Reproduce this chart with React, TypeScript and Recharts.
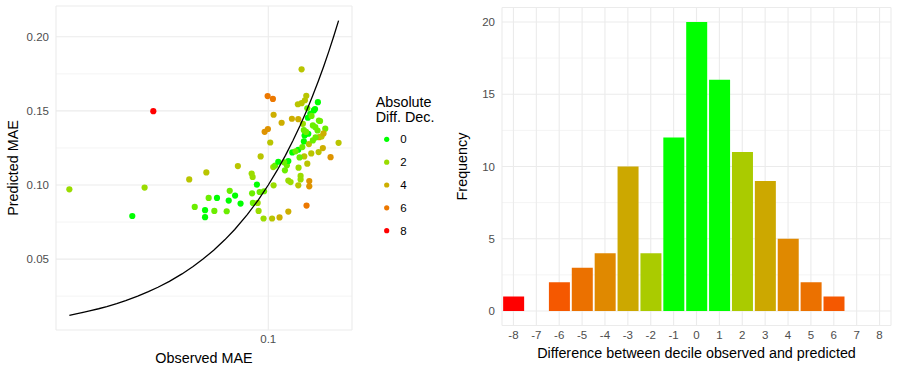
import { ScatterChart, Scatter, BarChart, Bar, XAxis, YAxis, CartesianGrid, Cell } from "recharts";

// scatter: observed vs predicted MAE, coloured by absolute decile difference
const observedMae = [
    0.0121, 0.0236, 0.0269, 0.0295, 0.0432, 0.0458, 0.0511, 0.0511, 0.0518, 0.0531,
    0.0564, 0.0580, 0.0643, 0.0657, 0.0664, 0.0703, 0.0724, 0.0745, 0.0838, 0.0847,
    0.0842, 0.0849, 0.0886, 0.0893, 0.0902, 0.0912, 0.0922, 0.0951, 0.0962, 0.0993,
    0.0996, 0.1021, 0.1041, 0.1050, 0.1058, 0.1054, 0.1058, 0.1075, 0.1112, 0.1127,
    0.1152, 0.1193, 0.1218, 0.1237, 0.1237, 0.1237, 0.1267, 0.1285, 0.1290, 0.1369,
    0.1375, 0.1375, 0.1379, 0.1375, 0.1409, 0.1424, 0.1409, 0.1424, 0.1435, 0.1444,
    0.1459, 0.1465, 0.1470, 0.1459, 0.1475, 0.1497, 0.1501, 0.1513, 0.1513, 0.1522,
    0.1529, 0.1539, 0.1545, 0.1545, 0.1562, 0.1578, 0.1605, 0.1605, 0.1622, 0.1647,
    0.1693, 0.1706, 0.1711, 0.1718, 0.1760, 0.1785, 0.1831, 0.1937, 0.2109, 0.1643,
    0.1583, 0.1733, 0.1494, 0.1687, 0.1798, 0.1652, 0.1394, 0.1336, 0.1183, 0.0956
];

const predictedMae = [
    0.0971, 0.0791, 0.0983, 0.1498, 0.1038, 0.0852, 0.0830, 0.0783, 0.1085, 0.0913,
    0.0825, 0.0913, 0.0823, 0.0895, 0.0961, 0.0929, 0.1128, 0.0875, 0.1077, 0.1054,
    0.0944, 0.0879, 0.1003, 0.0879, 0.0825, 0.0953, 0.1193, 0.0774, 0.1359, 0.1600,
    0.1378, 0.1287, 0.0774, 0.1581, 0.1474, 0.1121, 0.0998, 0.1131, 0.1157, 0.0781,
    0.1420, 0.1099, 0.1133, 0.0821, 0.1162, 0.1030, 0.1020, 0.1447, 0.1220, 0.1545,
    0.1444, 0.1238, 0.1117, 0.0998, 0.1061, 0.1781, 0.1038, 0.1552, 0.1256, 0.1413,
    0.1294, 0.1193, 0.1334, 0.1370, 0.1572, 0.1602, 0.0861, 0.1144, 0.1518, 0.1454,
    0.1346, 0.1276, 0.1027, 0.0991, 0.1481, 0.1213, 0.1301, 0.1402, 0.1503, 0.1390,
    0.1559, 0.1222, 0.1435, 0.1323, 0.1328, 0.1249, 0.1380, 0.1188, 0.1285, 0.1513,
    0.1466, 0.1432, 0.1358, 0.1368, 0.1348, 0.1321, 0.1186, 0.1227, 0.1153, 0.0958
];

const absDiffDecile = [
    2, 0, 2, 8, 3, 1, 0, 0, 3, 1,
    1, 0, 1, 0, 1, 0, 3, 0, 2, 2,
    1, 1, 0, 2, 2, 1, 3, 2, 5, 6,
    5, 3, 3, 6, 4, 2, 2, 1, 0, 4,
    4, 1, 1, 4, 0, 2, 2, 4, 0, 3,
    4, 0, 2, 3, 2, 3, 2, 3, 1, 2,
    0, 3, 0, 1, 3, 3, 6, 3, 1, 0,
    0, 3, 5, 5, 0, 3, 1, 1, 0, 1,
    0, 3, 1, 4, 3, 4, 1, 5, 3, 0,
    1, 1, 1, 1, 4, 1, 1, 1, 1, 1
];

// identity reference (predicted = observed), drawn over the observed range
const identityX = [
    0.0121, 0.013, 0.014, 0.015, 0.0165, 0.018, 0.02, 0.022, 0.025, 0.028, 0.031,
    0.035, 0.04, 0.045, 0.05, 0.056, 0.063, 0.07, 0.08, 0.09, 0.1, 0.11, 0.12,
    0.13, 0.14, 0.15, 0.16, 0.17, 0.18, 0.19, 0.2, 0.2109
];

const legendBreaks = [0, 2, 4, 6, 8];

// histogram of decile differences
const diffValues = [-8, -7, -6, -5, -4, -3, -2, -1, 0, 1, 2, 3, 4, 5, 6, 7, 8];
const frequency = [1, 0, 2, 3, 4, 10, 4, 12, 20, 16, 11, 9, 5, 2, 1, 0, 0];

const pointPalette = ['#00FF00', '#6BEE00', '#9ADC00', '#B9C500', '#CDAE00', '#DE9300', '#EC7800', '#F65200', '#FF0000'];
const barPalette = ['#00FF00', '#00FF00', '#AACB00', '#CCA800', '#E08900', '#EB7100', '#F55800', '#FA3C00', '#FF0000'];

const FONT = '"Liberation Sans", Arial, Helvetica, sans-serif';
const tickStyle = { fill: '#4D4D4D', fontSize: 11.5 };

const points = observedMae.map((x, i) => ({ x, y: predictedMae[i], decile: absDiffDecile[i] }));
const identity = identityX.map(x => ({ x, y: x }));
const histData = diffValues.map((d, i) => ({ diff: d, count: frequency[i] }));

const title = (text: string, x: number, y: number, rotate = false) => () => (
    <text
        x={x}
        y={y}
        textAnchor="middle"
        transform={rotate ? `rotate(-90 ${x} ${y})` : undefined}
        fontSize={14.35}
        fill="#000"
    >
        {text}
    </text>
);

const Dot = (props: any) => (
    <circle cx={props.cx} cy={props.cy} r={3.1} fill={pointPalette[props.payload.decile]} />
);

function App() {
    return (
        <div style={{ position: 'absolute', left: 0, top: 0, width: 900, height: 370, background: '#fff', fontFamily: FONT }}>
            <div style={{ position: 'absolute', left: 0, top: 0 }}>
                <ScatterChart width={360} height={370} margin={{ top: 6, right: 8, bottom: 0, left: 0 }}>
                    <CartesianGrid horizontalValues={[0.025, 0.075, 0.125, 0.175]} vertical={false} stroke="#F4F4F4" />
                    <CartesianGrid stroke="#EBEBEB" strokeWidth={1.1} />
                    <XAxis
                        type="number"
                        dataKey="x"
                        scale="log"
                        domain={[0.0105, 0.2432]}
                        allowDataOverflow
                        ticks={[0.1]}
                        axisLine={false}
                        tickLine={false}
                        tickSize={0}
                        tickMargin={5}
                        height={40}
                        tick={tickStyle}
                        label={title('Observed MAE', 204, 362.5)}
                    />
                    <YAxis
                        type="number"
                        dataKey="y"
                        domain={[0.00216, 0.2208]}
                        allowDataOverflow
                        ticks={[0.05, 0.1, 0.15, 0.2]}
                        tickFormatter={(v: number) => v.toFixed(2)}
                        axisLine={false}
                        tickLine={false}
                        tickMargin={1}
                        width={56}
                        tick={tickStyle}
                        label={title('Predicted MAE', 18, 168, true)}
                    />
                    <Scatter data={points} shape={Dot} isAnimationActive={false} />
                    <Scatter
                        data={identity}
                        line={{ stroke: '#000', strokeWidth: 1.3 }}
                        lineType="joint"
                        shape={() => <g />}
                        isAnimationActive={false}
                    />
                </ScatterChart>
            </div>

            <svg width={80} height={170} style={{ position: 'absolute', left: 360, top: 80 }}>
                <text x={15.7} y={26.7} fontSize={14.35} fill="#000">Absolute</text>
                <text x={15.7} y={42.3} fontSize={14.35} fill="#000">Diff. Dec.</text>
                {legendBreaks.map((b, i) => (
                    <g key={b}>
                        <circle cx={26.7} cy={59.3 + i * 22.85} r={2.6} fill={pointPalette[b]} />
                        <text x={40.3} y={59.3 + i * 22.85} dy="0.36em" fontSize={11.5} fill="#000">{b}</text>
                    </g>
                ))}
            </svg>

            <div style={{ position: 'absolute', left: 440, top: 0 }}>
                <BarChart width={460} height={370} data={histData} margin={{ top: 7.5, right: 9, bottom: 0, left: 0 }} barCategoryGap="5%">
                    <CartesianGrid horizontalValues={[2.5, 7.5, 12.5, 17.5]} vertical={false} stroke="#F4F4F4" />
                    <CartesianGrid stroke="#EBEBEB" strokeWidth={1.1} />
                    <XAxis
                        dataKey="diff"
                        type="category"
                        interval={0}
                        axisLine={false}
                        tickLine={false}
                        tickSize={0}
                        tickMargin={5}
                        height={44.5}
                        tick={tickStyle}
                        label={title('Difference between decile observed and predicted', 256.5, 358.3)}
                    />
                    <YAxis
                        type="number"
                        domain={[-1, 21]}
                        allowDataOverflow
                        ticks={[0, 5, 10, 15, 20]}
                        axisLine={false}
                        tickLine={false}
                        tickMargin={1}
                        width={62}
                        tick={tickStyle}
                        label={title('Frequency', 26.7, 166.5, true)}
                    />
                    <Bar dataKey="count" isAnimationActive={false}>
                        {histData.map(d => (
                            <Cell key={d.diff} fill={barPalette[Math.abs(d.diff)]} />
                        ))}
                    </Bar>
                </BarChart>
            </div>
        </div>
    );
}

export default App;
